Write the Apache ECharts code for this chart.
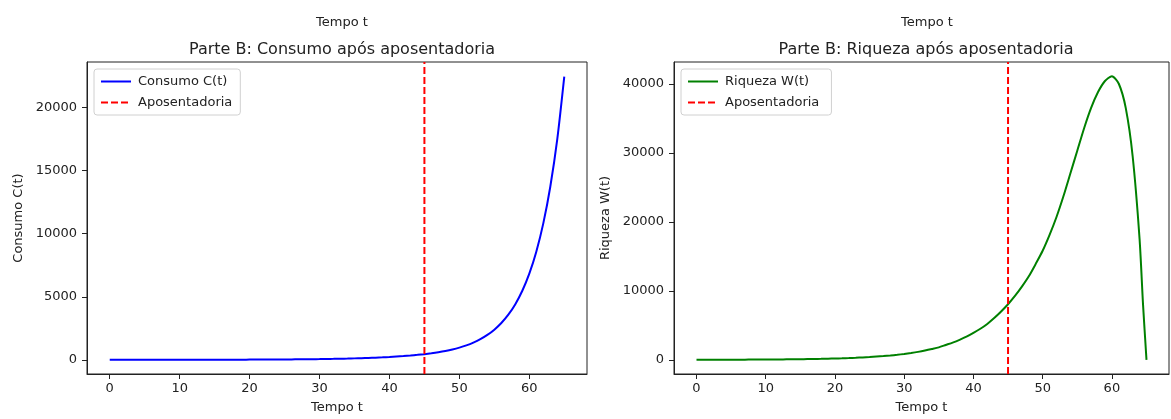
<!DOCTYPE html>
<html>
<head>
<meta charset="utf-8">
<script src="https://cdn.jsdelivr.net/npm/echarts@6/dist/echarts.min.js"></script>
<style>
  html, body { margin: 0; padding: 0; background: #fff; }
  #chart { width: 1171px; height: 419px; }
</style>
</head>
<body>
<div id="chart"></div>
<script>
// time axis (years)
const years = [0,1,2,3,4,5,6,7,8,9,10,11,12,13,14,15,16,17,18,19,20,21,22,23,24,25,26,27,28,29,30,
  31,32,33,34,35,36,37,38,39,40,41,42,43,44,45,46,47,48,49,50,51,52,53,54,55,56,57,58,59,60,61,62,63,64,65];

// consumption C(t)
const consumo = [1,1.1,1.3,1.5,1.7,2,2.2,2.5,2.9,3.3,3.8,4.3,5,5.7,6.5,7.5,8.6,9.8,11,13,15,17,19,22,25,29,33,38,43,50,57,
  65,75,86,99,114,130,149,170,195,225,262,300,345,395,450,519,601,700,820,967,1145,1366,1637,1974,2392,2917,3578,4413,5475,6830,
  8571,10817,13725,17493,22450];

// wealth W(t)
const yearsW = [0,1,2,3,4,5,6,7,8,9,10,11,12,13,14,15,16,17,18,19,20,21,22,23,24,25,26,27,28,29,30,
  31,32,33,34,35,36,37,38,39,40,41,42,43,44,45,46,47,48,49,50,51,52,53,54,55,56,57,58,59,60,61,62,63,64,64.5,65];
const riqueza = [10,12,13,15,17,20,23,27,31,36,42,49,57,66,77,90,105,120,140,165,190,220,255,300,350,400,470,540,630,730,850,
  990,1150,1340,1560,1800,2150,2500,2900,3350,3900,4500,5200,6050,7000,8050,9250,10600,12100,13900,15800,18100,20700,23700,27000,30300,
  33600,36500,38800,40400,41100,40000,36500,29500,17500,8000,0];

const aposentadoria = 45;
const xTicks = [0, 10, 20, 30, 40, 50, 60];
const yTicksC = [0, 5000, 10000, 15000, 20000];
const yTicksW = [0, 10000, 20000, 30000, 40000];

// matplotlib-like limits (5% margins)
const xMin = -3.25, xMax = 68.25;
const cMin = -1125, cMax = 23615;
const wMin = -2055, wMax = 43155;

const font = 'DejaVu Sans';
const txt = '#222';

function xAxis(gridIndex) {
  return {
    type: 'value', gridIndex, min: xMin, max: xMax,
    name: 'Tempo t', nameLocation: 'middle', nameGap: 27,
    nameTextStyle: { color: txt, fontFamily: font, fontSize: 13 },
    axisLine: { show: true, onZero: false, lineStyle: { color: '#222', width: 1 } },
    axisTick: { show: true, inside: false, length: 5, lineStyle: { color: '#222', width: 1 }, customValues: xTicks },
    axisLabel: { color: txt, fontFamily: font, fontSize: 13, margin: 8, customValues: xTicks },
    splitLine: { show: false }
  };
}

function yAxis(gridIndex, name, min, max, ticks, gap) {
  return {
    type: 'value', gridIndex, min, max,
    name, nameLocation: 'middle', nameGap: gap, nameRotate: 90,
    nameTextStyle: { color: txt, fontFamily: font, fontSize: 13 },
    axisLine: { show: true, onZero: false, lineStyle: { color: '#222', width: 1 } },
    axisTick: { show: true, inside: false, length: 5, lineStyle: { color: '#222', width: 1 }, customValues: ticks },
    axisLabel: { color: txt, fontFamily: font, fontSize: 13, margin: 10, customValues: ticks,
      formatter: v => String(v) },
    splitLine: { show: false }
  };
}

const legendBase = {
  orient: 'vertical', itemWidth: 30, itemHeight: 10, itemGap: 8,
  padding: [6, 8, 6, 6], borderColor: '#d0d0d0', borderWidth: 1, borderRadius: 3,
  backgroundColor: 'rgba(255,255,255,0.8)',
  itemStyle: { opacity: 0 },
  textStyle: { color: txt, fontFamily: font, fontSize: 13, padding: [0, 0, 0, 2] },
  selectedMode: false
};

const chart = echarts.init(document.getElementById('chart'));

chart.setOption({
  animation: false,
  title: [
    { text: 'Parte B: Consumo após aposentadoria', left: 337, top: 37, textAlign: 'center',
      textStyle: { color: txt, fontFamily: font, fontSize: 16, fontWeight: 'normal' } },
    { text: 'Parte B: Riqueza após aposentadoria', left: 921, top: 37, textAlign: 'center',
      textStyle: { color: txt, fontFamily: font, fontSize: 16, fontWeight: 'normal' } },
    { text: 'Tempo t', left: 337, top: 11, textAlign: 'center',
      textStyle: { color: txt, fontFamily: font, fontSize: 13, fontWeight: 'normal' } },
    { text: 'Tempo t', left: 922, top: 11, textAlign: 'center',
      textStyle: { color: txt, fontFamily: font, fontSize: 13, fontWeight: 'normal' } }
  ],
  grid: [
    { left: 87, right: 584, top: 62, bottom: 43, show: true, borderColor: '#222', borderWidth: 1, backgroundColor: 'transparent' },
    { left: 674, right: 2, top: 62, bottom: 43, show: true, borderColor: '#222', borderWidth: 1, backgroundColor: 'transparent' }
  ],
  xAxis: [xAxis(0), xAxis(1)],
  yAxis: [
    yAxis(0, 'Consumo C(t)', cMin, cMax, yTicksC, 62),
    yAxis(1, 'Riqueza W(t)', wMin, wMax, yTicksW, 62)
  ],
  legend: [
    Object.assign({}, legendBase, { left: 94, top: 69, data: ['Consumo C(t)', 'Aposentadoria'] }),
    Object.assign({}, legendBase, { left: 681, top: 69, data: ['Riqueza W(t)', 'Aposentadoria '] })
  ],
  series: [
    {
      name: 'Consumo C(t)', type: 'line', xAxisIndex: 0, yAxisIndex: 0,
      data: years.map((t, i) => [t, consumo[i]]),
      symbol: 'none', smooth: 0.25,
      lineStyle: { color: '#0000ff', width: 2 }, itemStyle: { color: '#0000ff' }
    },
    {
      name: 'Aposentadoria', type: 'line', xAxisIndex: 0, yAxisIndex: 0,
      data: [[aposentadoria, cMin], [aposentadoria, cMax]],
      symbol: 'none',
      lineStyle: { color: '#ff0000', width: 2, type: [7, 3] }, itemStyle: { color: '#ff0000' }
    },
    {
      name: 'Riqueza W(t)', type: 'line', xAxisIndex: 1, yAxisIndex: 1,
      data: yearsW.map((t, i) => [t, riqueza[i]]),
      symbol: 'none', smooth: 0.25,
      lineStyle: { color: '#008000', width: 2 }, itemStyle: { color: '#008000' }
    },
    {
      name: 'Aposentadoria ', type: 'line', xAxisIndex: 1, yAxisIndex: 1,
      data: [[aposentadoria, wMin], [aposentadoria, wMax]],
      symbol: 'none',
      lineStyle: { color: '#ff0000', width: 2, type: [7, 3] }, itemStyle: { color: '#ff0000' }
    }
  ]
});
</script>
</body>
</html>
